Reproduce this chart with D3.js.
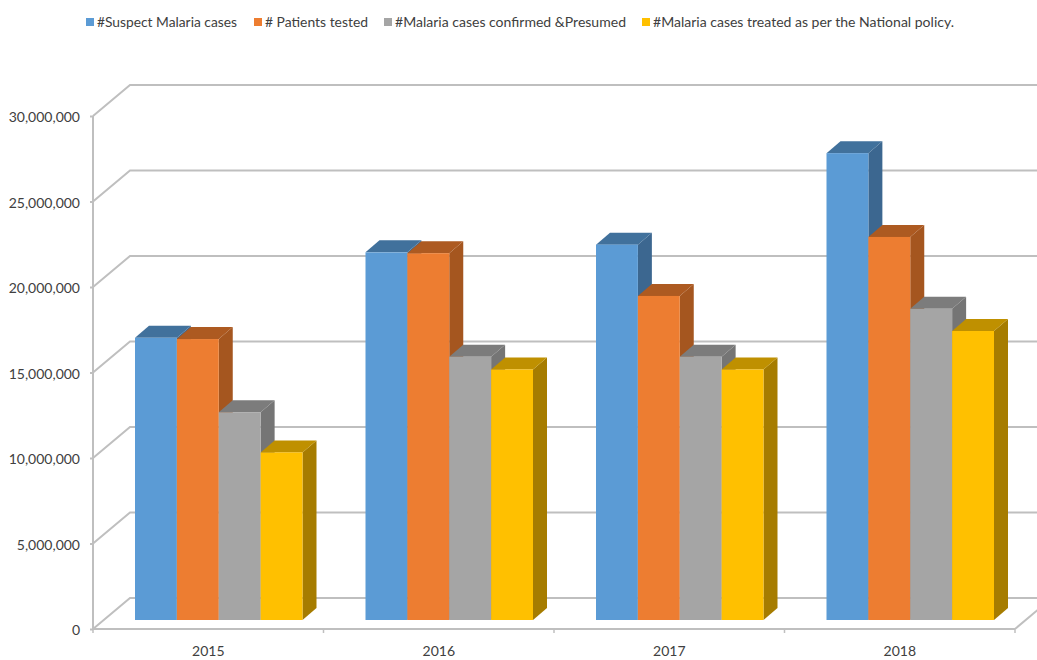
<!DOCTYPE html>
<html>
<head>
<meta charset="utf-8">
<script src="https://cdn.jsdelivr.net/npm/d3@7"></script>
<style>
  html, body { margin: 0; padding: 0; background: #fff; }
  svg { display: block; }
  text { font-family: Lato, "Open Sans", sans-serif; fill: #404040; }
</style>
</head>
<body>
<svg id="chart" width="1037" height="660"></svg>
<script>
const years = ["2015", "2016", "2017", "2018"];
const seriesNames = [
  "#Suspect Malaria cases",
  "# Patients tested",
  "#Malaria cases confirmed &Presumed",
  "#Malaria cases treated as per the National policy."
];
const suspect = [16500000, 21500000, 21950000, 27300000];
const tested = [16430000, 21450000, 18950000, 22400000];
const confirmed = [12150000, 15400000, 15400000, 18200000];
const treated = [9800000, 14650000, 14650000, 16900000];
const tickValues = [0, 5000000, 10000000, 15000000, 20000000, 25000000, 30000000];
const frontColors = ["#5b9bd5", "#ed7d31", "#a5a5a5", "#ffc000"];
const topColors = ["#41719c", "#ad5a21", "#7c7c7c", "#bf9000"];
const sideColors = ["#3c6790", "#a5561f", "#757575", "#a67c00"];

const allValues = [suspect, tested, confirmed, treated];
const svg = d3.select("#chart");

// Box projection: the front floor edge, the bar plane and the back wall
const plotLeft = 93, plotRight = 1015, plotFront = 629, plotTop = 116;
const wallDx = 37, wallDy = -31;
const barDx = 10.5, barDy = -9;
const barDepthDx = 14, barDepthDy = -12;

const y = d3.scaleLinear().domain([0, 30000000]).range([plotFront, plotTop]);
const x = d3.scaleBand().domain(years).range([plotLeft, plotRight]);
const inset = 31.5 / x.bandwidth();
const barBand = d3.scaleBand().domain(years)
  .range([plotLeft + barDx, plotRight + barDx])
  .paddingInner(inset * 2).paddingOuter(inset);
const inner = d3.scaleBand().domain(d3.range(4)).range([0, barBand.bandwidth()]);

const gridColor = "#bfbfbf";

// Wall gridlines with their diagonal returns to the value axis
const line = d3.line();
svg.append("g").selectAll("path").data(tickValues).join("path")
  .attr("fill", "none").attr("stroke", gridColor).attr("stroke-width", 2)
  .attr("d", v => line([
    [plotLeft, y(v)],
    [plotLeft + wallDx, y(v) + wallDy],
    [plotRight + wallDx, y(v) + wallDy]
  ]));

// Floor edge on the right
svg.append("path").attr("fill", "none").attr("stroke", gridColor).attr("stroke-width", 2)
  .attr("d", line([[plotRight, plotFront], [plotRight + wallDx, plotFront + wallDy]]));

// Value axis
const yAxis = svg.append("g").attr("transform", `translate(${plotLeft},0)`)
  .call(d3.axisLeft(y).tickValues(tickValues).tickSize(3).tickPadding(10)
    .tickFormat(d3.format(",")));
yAxis.selectAll("path, line").attr("stroke", gridColor).attr("stroke-width", 2);
yAxis.select(".domain").attr("d", `M0,${plotTop}V${plotFront}`);
yAxis.selectAll("text").style("font-size", "14px").style("font-family", "Lato")
  .attr("dy", "0.42em");

// Category axis with ticks on the band edges
const xAxis = svg.append("g").attr("transform", `translate(0,${plotFront})`)
  .call(d3.axisBottom(x).tickSize(0).tickPadding(17));
xAxis.select(".domain").attr("d", `M${plotLeft},0H${plotRight}`).attr("stroke", gridColor).attr("stroke-width", 2);
xAxis.selectAll("text").style("font-size", "14px").style("font-family", "Lato");
xAxis.selectAll("line.edge").data(years.map(d => x(d)).concat([plotRight])).join("line")
  .attr("class", "edge").attr("x1", d => d).attr("x2", d => d)
  .attr("y1", 0).attr("y2", 4).attr("stroke", gridColor).attr("stroke-width", 1.5);

// Bars, drawn left to right so each front face covers its neighbour's side
const barBase = plotFront + barDy;
const scaleV = v => y(v) + barDy;
const poly = pts => pts.map(p => p.join(",")).join(" ");

years.forEach((year, yi) => {
  const group = svg.append("g");
  allValues.forEach((values, si) => {
    const x0 = barBand(year) + inner(si);
    const x1 = x0 + inner.bandwidth();
    const t = scaleV(values[yi]);
    group.append("polygon").attr("fill", sideColors[si]).attr("points", poly([
      [x1, t], [x1 + barDepthDx, t + barDepthDy],
      [x1 + barDepthDx, barBase + barDepthDy], [x1, barBase]
    ]));
    group.append("polygon").attr("fill", topColors[si]).attr("points", poly([
      [x0, t], [x0 + barDepthDx, t + barDepthDy],
      [x1 + barDepthDx, t + barDepthDy], [x1, t]
    ]));
    group.append("rect").attr("fill", frontColors[si])
      .attr("x", x0).attr("y", t)
      .attr("width", inner.bandwidth()).attr("height", barBase - t);
  });
});

// Legend
const legendSwatchX = [86, 254, 384, 642];
const legendTextWidth = [140, 103, 231, 301];
const legend = svg.append("g");
seriesNames.forEach((name, i) => {
  legend.append("rect").attr("x", legendSwatchX[i]).attr("y", 18)
    .attr("width", 8).attr("height", 8).attr("fill", frontColors[i]);
  legend.append("text").attr("x", legendSwatchX[i] + 11).attr("y", 27)
    .attr("textLength", legendTextWidth[i]).attr("lengthAdjust", "spacingAndGlyphs")
    .style("font-size", "14px").text(name);
});
</script>
</body>
</html>
